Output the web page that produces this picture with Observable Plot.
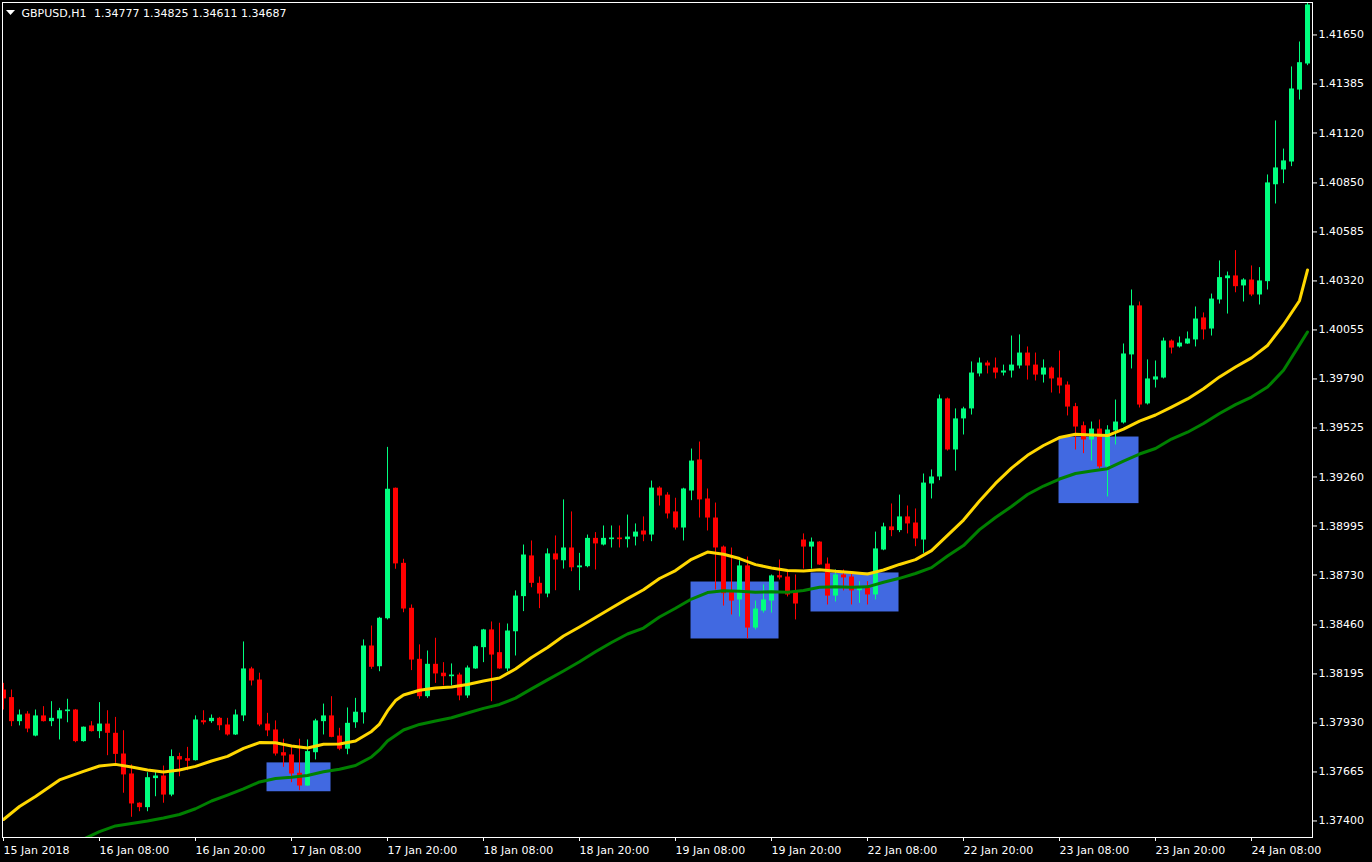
<!DOCTYPE html>
<html>
<head>
<meta charset="utf-8">
<script src="https://cdn.jsdelivr.net/npm/d3@7"></script>
<script src="https://cdn.jsdelivr.net/npm/@observablehq/plot@0.6"></script>
<style>
html, body { margin: 0; padding: 0; background: #000; overflow: hidden; }
</style>
</head>
<body>
<div id="chart"></div>
<script>
// ---- Data: GBPUSD H1 candles (bar index 0..163) ----
const opens = [
1.38108,1.38067,1.37937,1.37978,1.37859,1.37968,1.37937,1.37951,1.37991,1.38000,
1.37829,1.37914,1.37883,1.37924,1.37874,1.37762,1.37654,1.37496,1.37472,1.37629,
1.37643,1.37540,1.37748,1.37737,1.37726,1.37942,1.37937,1.37955,1.37919,1.37865,
1.37968,1.38222,1.38162,1.37924,1.37892,1.37769,1.37757,1.37658,1.37589,1.37769,
1.37937,1.37968,1.37859,1.37788,1.37931,1.37985,1.38346,1.38234,1.38494,1.39199,
1.38793,1.38550,1.38274,1.38072,1.38247,1.38199,1.38180,1.38189,1.38076,1.38222,
1.38337,1.38433,1.38310,1.38222,1.38423,1.38613,1.38833,1.38685,1.38627,1.38844,
1.38807,1.38876,1.38769,1.38775,1.38928,1.38892,1.38921,1.38930,1.38921,1.38935,
1.38968,1.38946,1.39200,1.39162,1.39071,1.38984,1.39184,1.39352,1.39141,1.39038,
1.38881,1.38638,1.38595,1.38779,1.38443,1.38535,1.38589,1.38726,1.38719,1.38638,
1.38919,1.38881,1.38908,1.38789,1.38616,1.38730,1.38719,1.38645,1.38658,1.38622,
1.38865,1.38990,1.38970,1.39044,1.39011,1.38919,1.39222,1.39260,1.39682,1.39406,
1.39574,1.39628,1.39817,1.39876,1.39849,1.39822,1.39833,1.39860,1.39930,1.39865,
1.39811,1.39849,1.39795,1.39757,1.39640,1.39537,1.39460,1.39519,1.39314,1.39509,
1.39552,1.39920,1.40185,1.39655,1.39784,1.39795,1.39995,1.39963,1.39979,1.40001,
1.40120,1.40060,1.40217,1.40332,1.40347,1.40293,1.40325,1.40244,1.40316,1.40840,
1.40920,1.40963,1.41352,1.41493
];
const highs = [
1.38144,1.38108,1.38000,1.37991,1.38000,1.38018,1.38045,1.38009,1.38058,1.38003,
1.37908,1.37937,1.38040,1.37996,1.37960,1.37888,1.37703,1.37498,1.37661,1.37666,
1.37697,1.37784,1.37766,1.37798,1.37968,1.37996,1.37973,1.37960,1.37955,1.38000,
1.38368,1.38231,1.38199,1.37982,1.37941,1.37842,1.37798,1.37842,1.37838,1.37950,
1.38032,1.38072,1.37901,1.38011,1.38063,1.38379,1.38454,1.38501,1.39420,1.39200,
1.38815,1.38568,1.38352,1.38319,1.38388,1.38256,1.38249,1.38199,1.38238,1.38346,
1.38436,1.38476,1.38469,1.38465,1.38644,1.38892,1.38914,1.38719,1.38871,1.38941,
1.39136,1.39071,1.38847,1.38946,1.38959,1.38995,1.38995,1.38995,1.39054,1.39006,
1.39044,1.39238,1.39207,1.39175,1.39145,1.39199,1.39411,1.39449,1.39195,1.39119,
1.38887,1.38876,1.38807,1.38827,1.38589,1.38676,1.38730,1.38811,1.38746,1.38730,
1.38952,1.38930,1.38910,1.38822,1.38757,1.38757,1.38735,1.38694,1.38694,1.38962,
1.39010,1.39114,1.39162,1.39103,1.39087,1.39276,1.39298,1.39703,1.39687,1.39628,
1.39637,1.39882,1.39903,1.39887,1.39903,1.39865,1.40022,1.40028,1.39963,1.39930,
1.39893,1.39855,1.39941,1.39774,1.39658,1.39557,1.39557,1.39568,1.39537,1.39676,
1.39979,1.40271,1.40206,1.39893,1.39887,1.40011,1.40001,1.40017,1.40044,1.40179,
1.40147,1.40249,1.40428,1.40368,1.40484,1.40332,1.40401,1.40392,1.40893,1.41185,
1.41033,1.41477,1.41612,1.41821
];
const lows = [
1.38000,1.37910,1.37914,1.37877,1.37855,1.37935,1.37910,1.37838,1.37931,1.37823,
1.37826,1.37881,1.37845,1.37753,1.37712,1.37550,1.37420,1.37450,1.37450,1.37531,
1.37496,1.37531,1.37639,1.37672,1.37724,1.37919,1.37928,1.37888,1.37859,1.37862,
1.37937,1.38130,1.37910,1.37856,1.37751,1.37690,1.37607,1.37564,1.37587,1.37730,
1.37865,1.37850,1.37780,1.37758,1.37901,1.37924,1.38220,1.38207,1.38487,1.38761,
1.38526,1.38213,1.38058,1.38063,1.38144,1.38130,1.38130,1.38050,1.38063,1.38220,
1.38256,1.38045,1.38220,1.38207,1.38292,1.38532,1.38661,1.38548,1.38607,1.38645,
1.38762,1.38748,1.38645,1.38769,1.38757,1.38887,1.38876,1.38876,1.38876,1.38887,
1.38910,1.38910,1.39103,1.39033,1.38973,1.38914,1.39132,1.39038,1.38968,1.38649,
1.38562,1.38514,1.38503,1.38384,1.38433,1.38524,1.38524,1.38703,1.38611,1.38487,
1.38762,1.38762,1.38782,1.38568,1.38584,1.38644,1.38568,1.38577,1.38568,1.38595,
1.38861,1.38937,1.38959,1.38952,1.38883,1.38847,1.39141,1.39240,1.39400,1.39292,
1.39487,1.39595,1.39801,1.39817,1.39790,1.39806,1.39795,1.39844,1.39784,1.39779,
1.39768,1.39714,1.39709,1.39590,1.39406,1.39386,1.39346,1.39303,1.39152,1.39433,
1.39546,1.39844,1.39633,1.39649,1.39741,1.39790,1.39925,1.39957,1.39977,1.39963,
1.40001,1.40022,1.40195,1.40141,1.40256,1.40206,1.40235,1.40190,1.40271,1.40736,
1.40846,1.40938,1.41298,1.41484
];
const closes = [
1.38060,1.37937,1.37973,1.37897,1.37968,1.37937,1.37955,1.37996,1.38000,1.37829,
1.37907,1.37883,1.37924,1.37874,1.37760,1.37649,1.37492,1.37472,1.37634,1.37643,
1.37540,1.37748,1.37730,1.37723,1.37946,1.37931,1.37955,1.37915,1.37865,1.37973,
1.38222,1.38157,1.37919,1.37887,1.37762,1.37751,1.37654,1.37589,1.37775,1.37941,
1.37968,1.37852,1.37788,1.37928,1.37988,1.38346,1.38231,1.38496,1.39193,1.38790,
1.38546,1.38270,1.38072,1.38247,1.38195,1.38180,1.38189,1.38076,1.38227,1.38342,
1.38433,1.38297,1.38222,1.38427,1.38616,1.38838,1.38685,1.38627,1.38844,1.38811,
1.38876,1.38769,1.38779,1.38928,1.38898,1.38928,1.38930,1.38921,1.38935,1.38962,
1.38946,1.39200,1.39157,1.39060,1.38984,1.39195,1.39346,1.39136,1.39038,1.38876,
1.38629,1.38589,1.38779,1.38443,1.38546,1.38595,1.38725,1.38714,1.38622,1.38573,
1.38881,1.38908,1.38784,1.38616,1.38730,1.38714,1.38644,1.38658,1.38622,1.38871,
1.38990,1.38970,1.39044,1.39006,1.38925,1.39227,1.39260,1.39682,1.39406,1.39574,
1.39628,1.39822,1.39876,1.39860,1.39822,1.39833,1.39865,1.39930,1.39860,1.39811,
1.39849,1.39790,1.39752,1.39638,1.39530,1.39460,1.39519,1.39314,1.39514,1.39557,
1.39925,1.40185,1.39649,1.39790,1.39801,1.39995,1.39957,1.39984,1.40006,1.40114,
1.40055,1.40222,1.40338,1.40347,1.40289,1.40325,1.40244,1.40320,1.40850,1.40931,
1.40969,1.41358,1.41500,1.41812
];

// Moving averages: [bar index, price]
const yellowMA = [
[0,1.37408],[2,1.37478],[4,1.37532],[7,1.37622],[10,1.37668],[12,1.37697],[14,1.37706],
[16,1.37692],[18,1.37676],[20,1.37665],[22,1.37676],[24,1.37695],[26,1.37724],[28,1.37749],
[30,1.37792],[32,1.37824],[34,1.37823],[36,1.37805],[38,1.37795],[40,1.37815],[42,1.37816],
[44,1.37832],[46,1.37884],[47,1.37924],[48,1.37995],[49,1.38051],[50,1.38081],[52,1.38107],
[54,1.38119],[56,1.38124],[58,1.38138],[60,1.38157],[62,1.38173],[64,1.38222],[66,1.38284],
[68,1.38338],[70,1.38400],[72,1.38449],[74,1.38500],[76,1.38552],[78,1.38602],[80,1.38650],
[82,1.38711],[84,1.38754],[86,1.38815],[88,1.38854],[90,1.38842],[92,1.38819],[94,1.38786],
[96,1.38768],[98,1.38754],[100,1.38752],[102,1.38758],[104,1.38750],[106,1.38744],[108,1.38735],
[110,1.38757],[112,1.38787],[114,1.38813],[116,1.38862],[118,1.38944],[120,1.39027],[122,1.39130],
[124,1.39225],[126,1.39308],[128,1.39377],[130,1.39430],[132,1.39473],[134,1.39491],[136,1.39487],
[138,1.39484],[140,1.39519],[142,1.39562],[144,1.39595],[146,1.39638],[148,1.39682],[150,1.39737],
[152,1.39801],[154,1.39855],[156,1.39904],[158,1.39971],[160,1.40083],[162,1.40213],[163,1.40379]
];
const greenMA = [
[10,1.37302],[12,1.37342],[14,1.37373],[16,1.37386],[18,1.37400],[20,1.37416],[22,1.37435],
[24,1.37466],[26,1.37508],[28,1.37540],[30,1.37573],[32,1.37611],[34,1.37630],[36,1.37637],
[38,1.37646],[40,1.37666],[42,1.37680],[44,1.37700],[46,1.37746],[47,1.37784],[48,1.37832],
[50,1.37892],[52,1.37922],[54,1.37941],[56,1.37958],[58,1.37984],[60,1.38009],[62,1.38030],
[64,1.38064],[66,1.38114],[68,1.38163],[70,1.38211],[72,1.38261],[74,1.38315],[76,1.38365],
[78,1.38411],[80,1.38443],[82,1.38503],[84,1.38550],[86,1.38600],[88,1.38635],[90,1.38645],
[92,1.38642],[94,1.38637],[96,1.38640],[98,1.38637],[100,1.38646],[102,1.38664],[104,1.38667],
[106,1.38664],[108,1.38666],[110,1.38691],[112,1.38712],[114,1.38738],[116,1.38770],[118,1.38833],
[120,1.38889],[122,1.38975],[124,1.39041],[126,1.39100],[128,1.39165],[130,1.39211],[132,1.39249],
[134,1.39279],[136,1.39292],[138,1.39305],[140,1.39346],[142,1.39384],[144,1.39414],[146,1.39465],
[148,1.39502],[150,1.39549],[152,1.39603],[154,1.39651],[156,1.39692],[158,1.39746],[160,1.39837],
[162,1.39974],[163,1.40044]
];

// Highlighted zones (bar index span, price span)
const zoneStart = [32.94, 85.94, 100.94, 131.94];
const zoneEnd   = [40.94, 96.94, 111.94, 141.94];
const zoneTop   = [1.37714, 1.38692, 1.38741, 1.39476];
const zoneBottom= [1.37558, 1.38384, 1.38530, 1.39116];

// Axis ticks
const xTickBars = [0,12,24,36,48,60,72,84,96,108,120,132,144,156];
const xTickLabels = ["15 Jan 2018","16 Jan 08:00","16 Jan 20:00","17 Jan 08:00","17 Jan 20:00",
  "18 Jan 08:00","18 Jan 20:00","19 Jan 08:00","19 Jan 20:00","22 Jan 08:00","22 Jan 20:00",
  "23 Jan 08:00","23 Jan 20:00","24 Jan 08:00"];
const yTicks = [1.37400,1.37665,1.37930,1.38195,1.38460,1.38730,1.38995,1.39260,1.39525,
  1.39790,1.40055,1.40320,1.40585,1.40850,1.41120,1.41385,1.41650];

const symbolName = "GBPUSD,H1";
const headerPrices = "1.34777 1.34825 1.34611 1.34687";

// ---- Build ----
const bars = opens.map((o, i) => ({i, o, h: highs[i], l: lows[i], c: closes[i]}));
const bulls = bars.filter(d => d.c >= d.o);
const bears = bars.filter(d => d.c < d.o);
const yellow = yellowMA.map(([i, v]) => ({i, v}));
const green = greenMA.map(([i, v]) => ({i, v}));
const zones = zoneStart.map((s, k) => ({x1: s, x2: zoneEnd[k], y1: zoneBottom[k], y2: zoneTop[k]}));

const BULL = "#00FF7F", BEAR = "#FF0000";
const downTriangle = {
  draw(ctx) { ctx.moveTo(-4.5, -2.5); ctx.lineTo(4.5, -2.5); ctx.lineTo(0, 2.5); ctx.closePath(); }
};

const chart = Plot.plot({
  width: 1372,
  height: 862,
  marginLeft: 2,
  marginRight: 60,
  marginTop: 2,
  marginBottom: 25,
  style: {background: "#000", color: "#fff", fontFamily: "'DejaVu Sans', sans-serif", fontSize: "11px"},
  x: {type: "linear", domain: [-0.125, 163.625], label: null},
  y: {type: "linear", domain: [1.373106, 1.418255], label: null},
  marks: [
    Plot.rect(zones, {x1: "x1", x2: "x2", y1: "y1", y2: "y2", fill: "#4169E1"}),
    Plot.ruleX(bulls, {x: "i", y1: "l", y2: "h", stroke: BULL, strokeWidth: 1, clip: true}),
    Plot.ruleX(bears, {x: "i", y1: "l", y2: "h", stroke: BEAR, strokeWidth: 1, clip: true}),
    Plot.ruleX(bulls, {x: "i", y1: "o", y2: "c", stroke: BULL, strokeWidth: 5, clip: true}),
    Plot.ruleX(bears, {x: "i", y1: "o", y2: "c", stroke: BEAR, strokeWidth: 5, clip: true}),
    Plot.line(green, {x: "i", y: "v", stroke: "#008000", strokeWidth: 3, clip: true}),
    Plot.line(yellow, {x: "i", y: "v", stroke: "#FFD700", strokeWidth: 3, clip: true}),
    Plot.frame({stroke: "#fff"}),
    Plot.axisY({anchor: "right", ticks: yTicks, tickSize: 4, tickPadding: 2,
      tickFormat: d => d.toFixed(5), label: null, stroke: "#fff", fill: "#fff", fontSize: 11}),
    Plot.axisX({anchor: "bottom", ticks: xTickBars, tickSize: 4, tickPadding: 4.5,
      tickFormat: d => xTickLabels[xTickBars.indexOf(d)], textAnchor: "start",
      label: null, stroke: "#fff", fill: "#fff", fontSize: 11}),
    Plot.dot([0], {frameAnchor: "top-left", dx: 8, dy: 10, symbol: downTriangle, r: 5, fill: "#fff", stroke: null}),
    Plot.text([symbolName], {frameAnchor: "top-left", text: d => d, dx: 19, dy: 7,
      textAnchor: "start", lineAnchor: "top", fill: "#fff", fontSize: 11}),
    Plot.text([headerPrices], {frameAnchor: "top-left", text: d => d, dx: 91.5, dy: 7,
      textAnchor: "start", lineAnchor: "top", fill: "#fff", fontSize: 11})
  ]
});
document.getElementById("chart").append(chart);
</script>
</body>
</html>
